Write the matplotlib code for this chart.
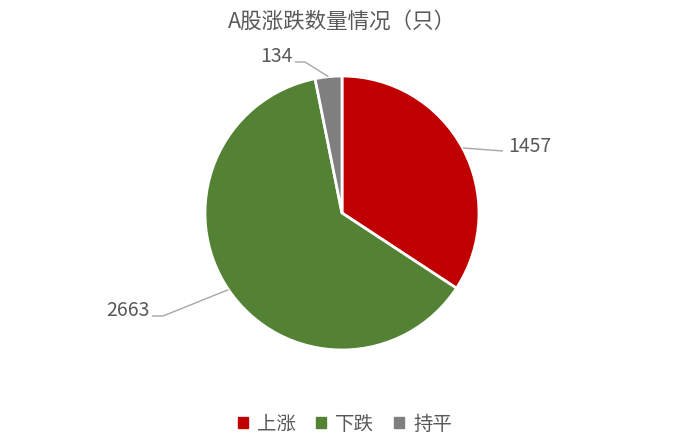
import matplotlib.pyplot as plt
import numpy as np

plt.rcParams['font.family'] = ['Noto Sans CJK SC', 'DejaVu Sans']

# data
categories = ['上涨', '下跌', '持平']
counts = [1457, 2663, 134]
colors = ['#C00000', '#548235', '#7F7F7F']
title = 'A股涨跌数量情况（只）'

# layout (pixel coords, y up)
W, H = 693, 447
cx, cy, r = 342, 234, 137
# label elbow point / text anchor per slice
elbows = [(503, 296), (163, 131), (305, 385)]
text_pos = [(508, 301), (150, 136), (293, 391)]
text_ha = ['left', 'right', 'right']
text_col = '#595959'

fig = plt.figure(figsize=(W / 100, H / 100), dpi=100)
ax = fig.add_axes([0, 0, 1, 1])

wedges, _ = ax.pie(counts, colors=colors, startangle=90, counterclock=False,
                   center=(cx, cy), radius=r, frame=True,
                   wedgeprops=dict(edgecolor='white', linewidth=2))
ax.set_xlim(0, W)
ax.set_ylim(0, H)
ax.set_aspect('equal')
ax.axis('off')

for w, v, (ex, ey), (tx, ty), ha in zip(wedges, counts, elbows, text_pos, text_ha):
    mid = np.deg2rad((w.theta1 + w.theta2) / 2)
    sx, sy = cx + r * np.cos(mid), cy + r * np.sin(mid)
    hx = tx - 5 if ha == 'left' else tx + 2
    ax.plot([sx, ex, hx], [sy, ey, ey], color='#A6A6A6', lw=1, solid_capstyle='butt')
    ax.text(tx, ty, str(v), ha=ha, va='center', fontsize=14, color=text_col)

fig.text(0.494, 1 - 22 / H, title, ha='center', va='center', fontsize=15.5, color=text_col)

handles = [plt.Rectangle((0, 0), 1, 1, color=c) for c in colors]
fig.legend(handles, categories, loc='center', bbox_to_anchor=(0.498, 1 - 424 / H),
           ncol=3, frameon=False, fontsize=14, labelcolor=text_col,
           handlelength=0.5, handleheight=0.5, handletextpad=0.5, columnspacing=1.0)

fig.savefig('out.png', dpi=100)
